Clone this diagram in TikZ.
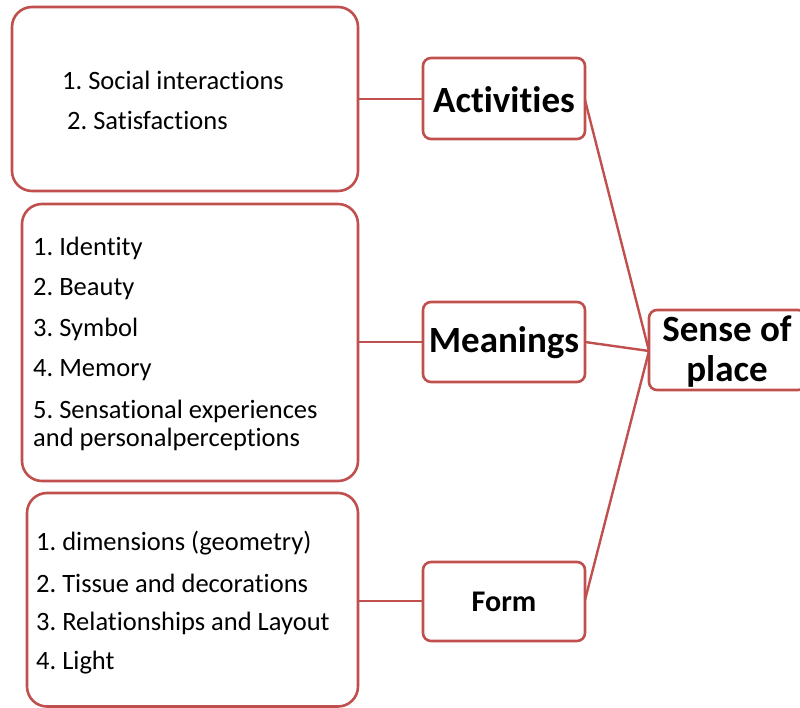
\documentclass[tikz,border=0pt]{standalone}
\usepackage{fontspec}
\setmainfont[Ligatures=NoCommon]{Carlito}
\frenchspacing
\definecolor{accent}{HTML}{C0504D}
\begin{document}
\begin{tikzpicture}[x=1pt,y=-1pt,
  listbox/.style={draw=accent,line width=2.6pt,rounded corners=20pt},
  titlebox/.style={draw=accent,line width=2.6pt,rounded corners=8pt,fill=white},
  link/.style={draw=accent,line width=2.4pt},
  item/.style={anchor=west,inner sep=0pt,font=\fontsize{26.5}{30}\selectfont},
  title/.style={inner sep=0pt,font=\bfseries\fontsize{37}{40}\selectfont,align=center}]
\useasboundingbox (0,0) rectangle (800,708);
% list boxes
\draw[listbox] (12,7) rectangle (358,191);
\draw[listbox] (22,204) rectangle (358,481);
\draw[listbox] (27,493) rectangle (358,706.5);
\coordinate (l1) at (358,99);
\coordinate (l2) at (358,342);
\coordinate (l3) at (358,601);
% title boxes
\draw[titlebox] (423,58) rectangle (585,139);
\draw[titlebox] (423,302) rectangle (585,382);
\draw[titlebox] (423,562) rectangle (585,641);
\draw[titlebox] (649,310) rectangle (806,390);
\coordinate (a1) at (423,99);
\coordinate (a2) at (585,100);
\coordinate (m1) at (423,342);
\coordinate (m2) at (585,342);
\coordinate (f1) at (423,601);
\coordinate (f2) at (585,600);
\coordinate (s) at (649,351);
\node[title] (act) at (504,100) {Activities};
\node[title] (mea) at (504,343) {Meanings};
\node[title,font=\bfseries\fontsize{30}{34}\selectfont] (frm) at (504,602) {Form};
\node[title,font=\bfseries\fontsize{37}{40}\selectfont] (sop) at (727,352) {Sense of\\place};
% connectors
\draw[link] (l1) -- (a1);
\draw[link] (l2) -- (m1);
\draw[link] (l3) -- (f1);
\draw[link] (a2) -- (s);
\draw[link] (m2) -- (s);
\draw[link] (f2) -- (s);
% texts
\node[item] (t11) at (62,80) {1. Social interactions};
\node[item] (t12) at (67,120) {2. Satisfactions};
\node[item] (t21) at (33,248) {1. Identity};
\node[item] (t22) at (33,289) {2. Beauty};
\node[item] (t23) at (33,329) {3. Symbol};
\node[item] (t24) at (33,370) {4. Memory};
\node[item] (t25) at (33,411) {5. Sensational experiences};
\node[item] (t26) at (33,439) {and personalperceptions};
\node[item] (t31) at (36,543) {1. dimensions (geometry)};
\node[item] (t32) at (36,583) {2. Tissue and decorations};
\node[item] (t33) at (36,623) {3. Relationships and Layout};
\node[item] (t34) at (36,663) {4. Light};
\end{tikzpicture}
\end{document}
